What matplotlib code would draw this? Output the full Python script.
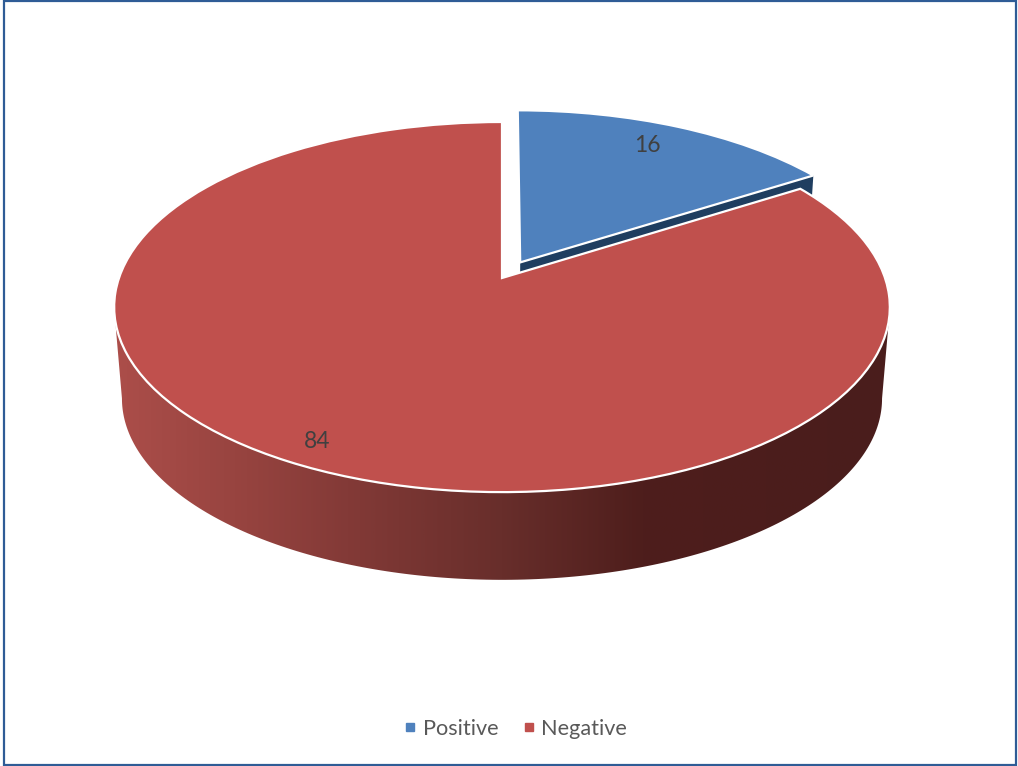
import numpy as np
import matplotlib
matplotlib.use("Agg")
import matplotlib.pyplot as plt
from matplotlib.transforms import Transform
from matplotlib.lines import Line2D
from matplotlib.patches import Rectangle, Polygon
from matplotlib.colors import LinearSegmentedColormap

plt.rcParams['font.family'] = ['Lato', 'DejaVu Sans']

categories = ["Positive", "Negative"]
values = [16, 84]
explode = [0.1, 0.0]
colors = ["#4F81BD", "#C0504D"]
TEXT = "#404040"


class Perspective(Transform):
    input_dims = 2
    output_dims = 2
    is_affine = False

    def __init__(self, cx, y0, a, b, k):
        super().__init__()
        self.cx, self.y0, self.a, self.b, self.k = cx, y0, a, b, k

    def transform_non_affine(self, xy):
        xy = np.asarray(xy, float)
        w = 1 + self.k * xy[:, 1]
        return np.column_stack([self.cx + self.a * xy[:, 0] / w,
                                self.y0 - self.b * xy[:, 1] / w])


K = 0.157
top = Perspective(502, 278, 383, 180.5, K)
base = Perspective(502, 370, 383 * 0.98, 180.5 * 0.98, K)

fig = plt.figure(figsize=(10.18, 7.66), dpi=100, facecolor="white")
ax = fig.add_axes([0, 0, 1, 1])

wedges, _, autotexts = ax.pie(values, explode=explode, colors=colors, startangle=90,
                              counterclock=False, autopct=lambda p: f"{p:.0f}",
                              wedgeprops=dict(edgecolor="white", linewidth=1.6),
                              textprops=dict(color=TEXT, fontsize=16.5))
for w in wedges:
    w.set_transform(top + ax.transData)
    w.set_zorder(3)

ax.set_aspect("auto")
ax.set_xlim(0, 1018)
ax.set_ylim(766, 0)
ax.axis("off")

# side wall of the large slice
t = np.radians(np.linspace(180 + 13, 360 - 13, 200))
rim = np.column_stack([np.cos(t), np.sin(t)])
t_b = np.radians(np.linspace(360 - 9, 180 + 9, 200))
rim_b = np.column_stack([np.cos(t_b), np.sin(t_b)])
outline = np.vstack([top.transform(rim), base.transform(rim_b)])
clip = Polygon(outline, closed=True, transform=ax.transData, facecolor="none", edgecolor="none")
ax.add_patch(clip)
cmap = LinearSegmentedColormap.from_list("side", [
    (0.00, "#AC4E4A"), (0.17, "#96433F"), (0.30, "#833A37"), (0.50, "#682E2B"),
    (0.68, "#4E1E1C"), (1.00, "#4A1D1C")])
im = ax.imshow(np.linspace(0, 1, 400)[None, :], cmap=cmap, aspect="auto",
               extent=(113, 891, 600, 300), zorder=1, interpolation="bilinear")
im.set_clip_path(clip)
ax.set_xlim(0, 1018)
ax.set_ylim(766, 0)

# cut face of the exploded slice
w0 = wedges[0]
edge = np.array([[w0.center[0], w0.center[1]],
                 [w0.center[0] + np.cos(np.radians(w0.theta1)),
                  w0.center[1] + np.sin(np.radians(w0.theta1))]])
face = np.vstack([top.transform(edge), base.transform(edge)[::-1]])
ax.fill(face[:, 0], face[:, 1], color="#1F3E60", zorder=2, lw=0)

autotexts[0].set_position((647, 145))
autotexts[1].set_position((317, 441))
for txt in autotexts:
    txt.set_zorder(5)

handles = [Line2D([], [], linestyle="none", marker="s", markersize=5.5, color=c, label=l)
           for c, l in zip(colors, categories)]
ax.legend(handles=handles, loc="center", bbox_to_anchor=(516 / 1018, 1 - 729 / 766),
          ncol=2, frameon=False, fontsize=15.6, labelcolor="#595959", handlelength=0.5,
          handletextpad=0.32, columnspacing=1.17)

ax.add_patch(Rectangle((4.5, 0.8), 1011.5, 764, fill=False, edgecolor="#2F5C96", linewidth=1.6,
                       clip_on=False, zorder=10))

fig.savefig("out.png", dpi=100)
